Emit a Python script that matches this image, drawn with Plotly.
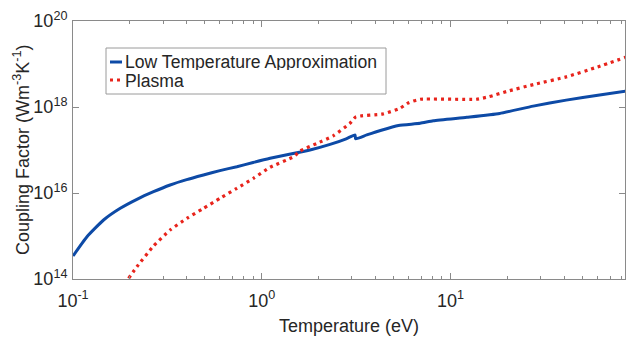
import numpy as np
import plotly.graph_objects as go

# ---- data ----
low_T = [0.1, 0.1186, 0.1452, 0.178, 0.218, 0.267, 0.327, 0.40, 0.491, 0.60, 0.738, 0.90, 1.107,
         1.4, 1.8, 2.3, 2.8, 3.12, 3.14, 3.6, 4.3, 5.3, 6.9, 8.1, 12.2, 18.2, 27.4, 41, 61.6, 85]
low_logG = [14.535, 14.984, 15.372, 15.644, 15.853, 16.03, 16.186, 16.31, 16.419, 16.52, 16.612, 16.71, 16.807,
            16.90, 17.0, 17.13, 17.26, 17.35, 17.26, 17.35, 17.46, 17.57, 17.62, 17.68, 17.76, 17.85, 18.02, 18.16, 18.28, 18.37]

plasma_T = [0.197, 0.218, 0.267, 0.327, 0.401, 0.491, 0.601, 0.738, 0.904, 1.107, 1.47, 1.6, 1.95, 2.39, 2.93,
            3.15, 4.4, 5.4, 6.0, 6.9, 13.7, 16.0, 19.8, 28.0, 41, 60, 85]
plasma_logG = [14.016, 14.286, 14.767, 15.14, 15.41, 15.644, 15.876, 16.109, 16.342, 16.598, 16.84, 16.98, 17.15,
               17.33, 17.62, 17.77, 17.84, 17.97, 18.10, 18.18, 18.18, 18.24, 18.36, 18.53, 18.70, 18.93, 19.16]

y_ticks = [1e14, 1e16, 1e18, 1e20]
y_exps = ["14", "16", "18", "20"]
x_ticks = [0.1, 1, 10]
x_exps = ["-1", "0", "1"]
x_minor = [m * 10.0 ** e for e in (-1, 0, 1) for m in range(2, 10)]

legend_names = ["Low Temperature Approximation", "Plasma"]
x_title = "Temperature (eV)"
y_title = "Coupling Factor (Wm<sup>-3</sup>K<sup>-1</sup>)"

BLUE = "#0d4aa6"
RED = "#e8241c"
AXIS = "#8a8a8a"
TXT = "#262626"
FONT = "Liberation Sans, Arial, sans-serif"


def pow_label(e):
    return "10<sup>" + e + "</sup>"


fig = go.Figure()
fig.add_trace(go.Scatter(x=low_T, y=[10 ** v for v in low_logG], mode="lines",
                         line=dict(color=BLUE, width=3, shape="spline", smoothing=0.5),
                         name=legend_names[0], showlegend=False))
fig.add_trace(go.Scatter(x=plasma_T, y=[10 ** v for v in plasma_logG], mode="lines",
                         line=dict(color=RED, width=3.2, dash="3px,4px", shape="spline", smoothing=0.5),
                         name=legend_names[1], showlegend=False))

W, H = 626, 337
L, R, T, B = 73, 1, 21, 58
pw, ph = W - L - R, H - T - B


def px(x):
    return (x - L) / pw


def py(y):
    return (H - B - y) / ph


# custom legend box (MATLAB style)
shapes = [
    dict(type="rect", xref="paper", yref="paper", x0=px(106), x1=px(386), y0=py(94), y1=py(48),
         line=dict(color="#9a9a9a", width=1), fillcolor="white", layer="above"),
    dict(type="line", xref="paper", yref="paper", x0=px(110), x1=px(122), y0=py(62), y1=py(62),
         line=dict(color=BLUE, width=3), layer="above"),
    dict(type="line", xref="paper", yref="paper", x0=px(110), x1=px(123), y0=py(80), y1=py(80),
         line=dict(color=RED, width=3.2, dash="3px,4px"), layer="above"),
]
annotations = [
    dict(xref="paper", yref="paper", x=px(123), y=py(62), text=legend_names[0], showarrow=False,
         xanchor="left", yanchor="middle", height=17, valign="middle",
         font=dict(family=FONT, size=17.6, color=TXT)),
    dict(xref="paper", yref="paper", x=px(123), y=py(80), text=legend_names[1], showarrow=False,
         xanchor="left", yanchor="middle", height=17, valign="middle",
         font=dict(family=FONT, size=17.6, color=TXT)),
    dict(xref="paper", yref="paper", x=px(21), y=py(150), text=y_title, showarrow=False,
         textangle=-90, xanchor="center", yanchor="middle",
         font=dict(family=FONT, size=18, color=TXT)),
]

fig.update_layout(
    width=W, height=H,
    margin=dict(l=L, r=R, t=T, b=B, pad=0),
    paper_bgcolor="white", plot_bgcolor="white",
    font=dict(family=FONT, size=18, color=TXT),
    shapes=shapes, annotations=annotations,
    showlegend=False,
)
fig.update_xaxes(
    type="log", range=[-1, np.log10(84)],
    tickvals=x_ticks, ticktext=[pow_label(e) for e in x_exps],
    ticks="inside", ticklen=6, tickcolor=AXIS, tickwidth=1,
    minor=dict(tickvals=x_minor, ticks="inside", ticklen=3, tickcolor=AXIS, showgrid=False),
    showline=True, linecolor=AXIS, linewidth=1, mirror="ticks",
    showgrid=False, zeroline=False,
    tickfont=dict(family=FONT, size=18, color=TXT),
    ticklabelstandoff=5,
    title=dict(text=x_title, font=dict(family=FONT, size=18, color=TXT), standoff=9),
)
fig.update_yaxes(
    type="log", range=[14, 20],
    tickvals=y_ticks, ticktext=[pow_label(e) for e in y_exps],
    ticks="inside", ticklen=6, tickcolor=AXIS, tickwidth=1,
    showline=True, linecolor=AXIS, linewidth=1, mirror="ticks",
    showgrid=False, zeroline=False,
    tickfont=dict(family=FONT, size=18, color=TXT),
    ticklabelstandoff=1,
)

fig.write_html("out.html")
